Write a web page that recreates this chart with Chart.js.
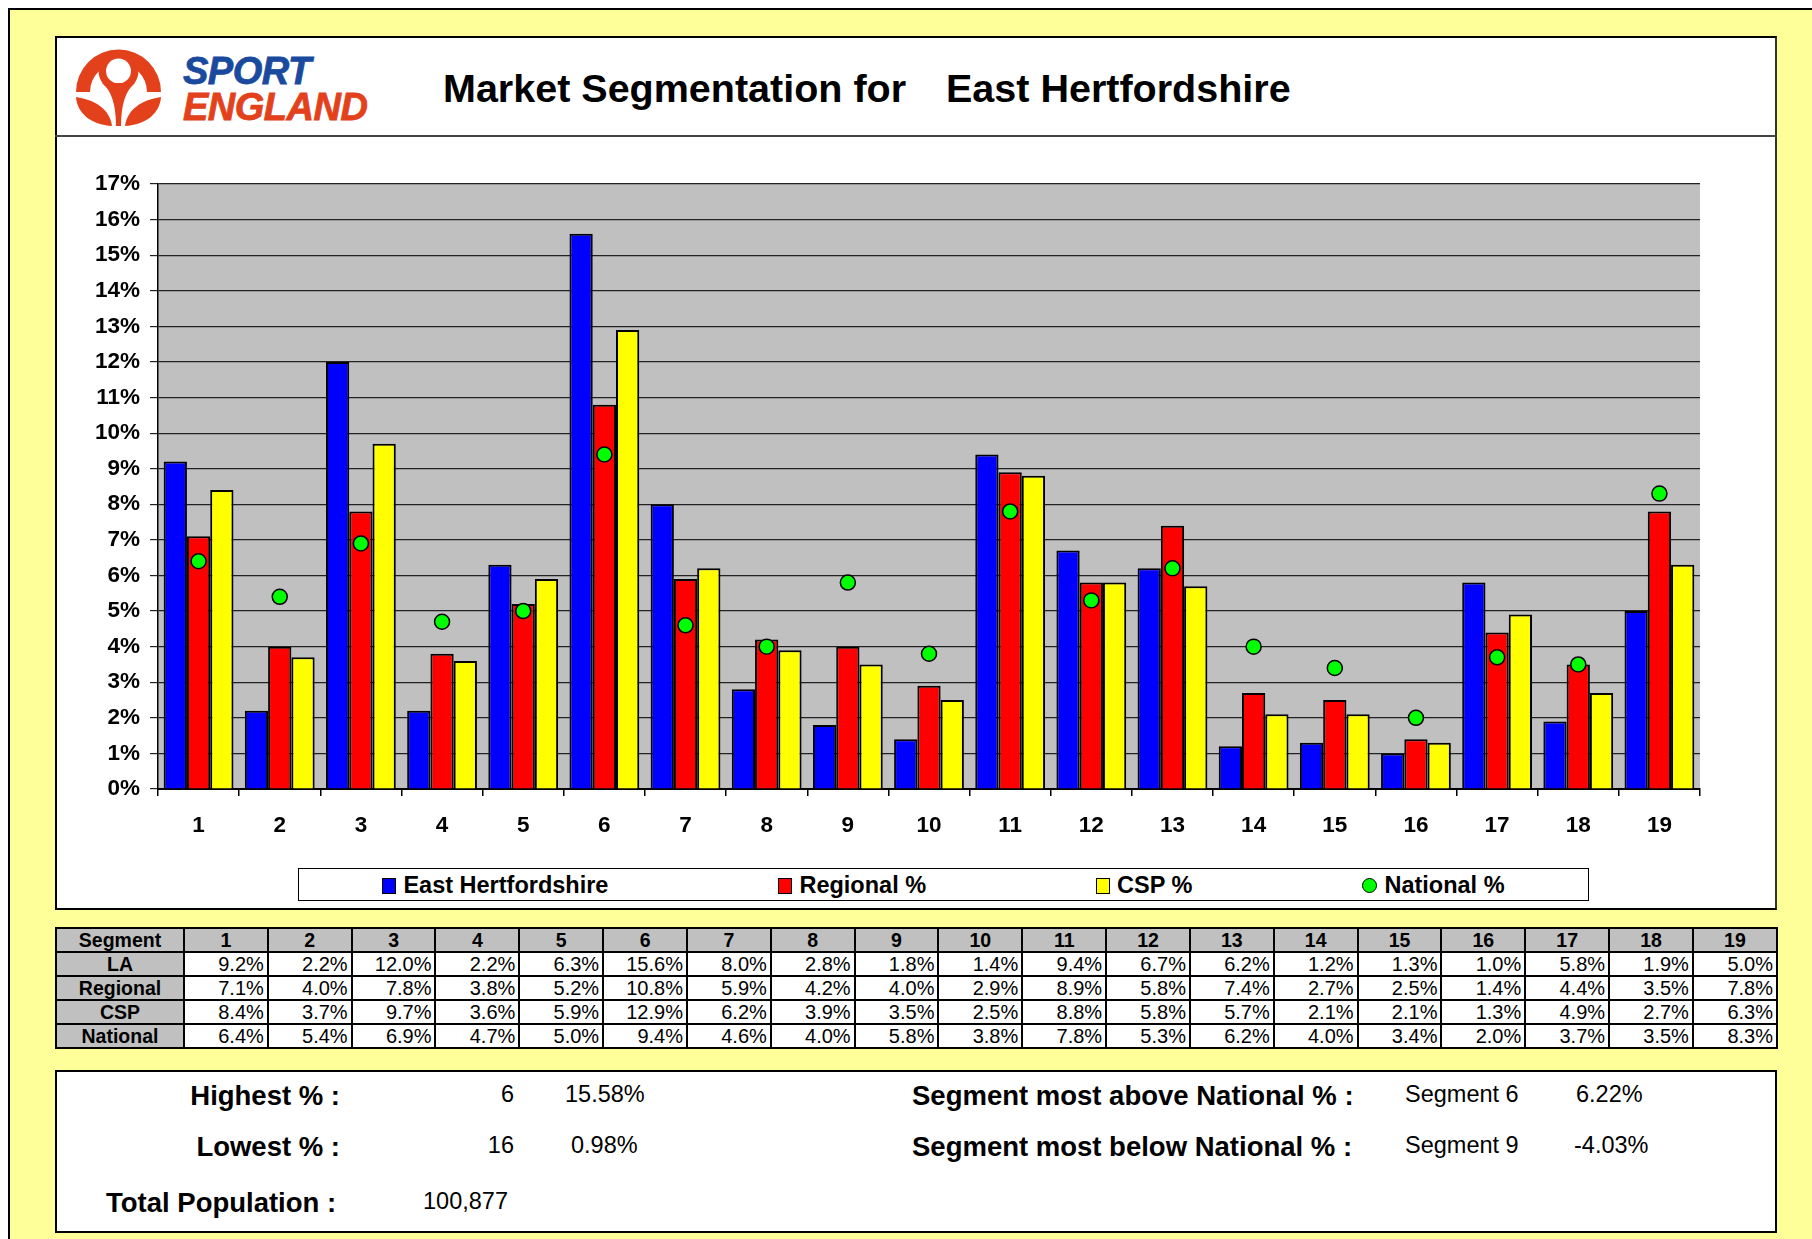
<!DOCTYPE html>
<html lang="en">
	<head>
		<meta charset="UTF-8">
		<title>Market Segmentation for East Hertfordshire</title>
		<script src="https://cdn.jsdelivr.net/npm/chart.js"></script>
		<style>
			body { margin: 0; width: 1812px; height: 1239px; overflow: hidden; background: #fff; font-family: "Liberation Sans", Arial, sans-serif; position: relative; }
			.abs { position: absolute; }
			#frame { left: 8px; top: 8px; width: 1812px; height: 1239px; background: #FFFF99; border-top: 2px solid #000; border-left: 2px solid #000; }
			#panel { left: 55px; top: 36px; width: 1722px; height: 874px; background: #fff; border: 2px solid #000; border-right-color: #333; box-sizing: border-box; }
			#titlebar { left: 55px; top: 36px; width: 1722px; height: 101px; border-bottom: 2px solid #444; box-sizing: border-box; }
			.t { white-space: nowrap; line-height: 1; }
			#legend { left: 298px; top: 868px; width: 1291px; height: 33px; background: #fff; border: 1.5px solid #000; box-sizing: border-box;
				display: flex; justify-content: center; align-items: center; gap: 170px; font-weight: bold; font-size: 23.5px; padding-top: 2px; }
			#legend .item { display: flex; align-items: center; white-space: nowrap; }
			#legend .mark { width: 12px; height: 14px; border: 1.5px solid #000; margin-right: 7px; }
			#legend .dot { width: 13px; height: 13px; border-radius: 50%; }
			#segTable { left: 55px; top: 927px; width: 1723px; border-collapse: collapse; table-layout: fixed; border: 2px solid #000; }
			#segTable td { border: 2px solid #000; height: 22px; padding: 0 3px; line-height: 22px; font-size: 20px; background: #fff;
				text-align: right; font-family: "Liberation Sans Narrow", "Arial Narrow", "Liberation Sans", sans-serif; }
			#segTable td.h { background: #C0C0C0; font-weight: bold; text-align: center; font-size: 19.5px; font-family: "Liberation Sans", Arial, sans-serif; }
			#info { left: 55px; top: 1070px; width: 1722px; height: 163px; background: #fff; border: 2px solid #000; box-sizing: border-box; }
			.lab { font-weight: bold; font-size: 27.5px; }
			.val { font-size: 23.5px; }
			.logo { font-weight: bold; font-style: italic; font-size: 38px; -webkit-text-stroke: 0.8px currentColor; letter-spacing: -0.5px; }
		</style>
	</head>
	<body>
		<div id="frame" class="abs"></div>
		<div id="panel" class="abs"></div>
		<div id="titlebar" class="abs"></div>

		<!-- logo -->
		<svg class="abs" style="left:70px;top:42px" width="110" height="86" viewBox="0 0 110 86">
			<path d="M6 50 A42.5 42.5 0 0 1 91 50 L77 50 A28.5 28.5 0 0 0 20 50 Z" fill="#E3411B"/>
			<circle cx="48.5" cy="29" r="20" fill="#E3411B"/>
			<circle cx="48.5" cy="29" r="12.5" fill="#fff"/>
			<path d="M32 41 Q46 52 46 84 L51 84 Q51 52 65 41 Z" fill="#E3411B"/>
			<path d="M6 55 C7 71 21 83 42 84 C40 68 26 58 6 55 Z" fill="#E3411B"/>
			<path d="M91 55 C90 71 76 83 55 84 C57 68 71 58 91 55 Z" fill="#E3411B"/>
		</svg>
		<div class="abs t logo" style="left:183px;top:52px;color:#1A4A9E">SPORT</div>
		<div class="abs t logo" style="left:183px;top:88px;color:#E3411B">ENGLAND</div>

		<div class="abs t" style="left:443px;top:69px;font-size:39.5px;font-weight:bold;color:#000">Market Segmentation for</div>
		<div class="abs t" style="left:946px;top:69px;font-size:39.5px;font-weight:bold;color:#000">East Hertfordshire</div>

		<canvas id="segChart" class="abs" style="left:57px;top:130px" width="1718" height="776"></canvas>
		<div id="legend" class="abs"></div>

		<table id="segTable" class="abs"></table>

		<div id="info" class="abs"></div>
		<div class="abs t lab" style="right:1472px;top:1082px">Highest % :</div>
		<div class="abs t val" style="right:1298px;top:1083px">6</div>
		<div class="abs t val" style="left:565px;top:1083px">15.58%</div>
		<div class="abs t lab" style="right:1472px;top:1133px">Lowest % :</div>
		<div class="abs t val" style="right:1298px;top:1134px">16</div>
		<div class="abs t val" style="left:571px;top:1134px">0.98%</div>
		<div class="abs t lab" style="left:106px;top:1189px">Total Population :</div>
		<div class="abs t val" style="left:423px;top:1190px">100,877</div>
		<div class="abs t lab" style="left:912px;top:1082px">Segment most above National % :</div>
		<div class="abs t val" style="left:1405px;top:1083px">Segment 6</div>
		<div class="abs t val" style="left:1576px;top:1083px">6.22%</div>
		<div class="abs t lab" style="left:912px;top:1133px">Segment most below National % :</div>
		<div class="abs t val" style="left:1405px;top:1134px">Segment 9</div>
		<div class="abs t val" style="left:1574px;top:1134px">-4.03%</div>

		<script>
			// values (percent)
			const segments = ['1','2','3','4','5','6','7','8','9','10','11','12','13','14','15','16','17','18','19'];
			const laPct = [9.2, 2.2, 12.0, 2.2, 6.3, 15.6, 8.0, 2.8, 1.8, 1.4, 9.4, 6.7, 6.2, 1.2, 1.3, 1.0, 5.8, 1.9, 5.0];
			const regionalPct = [7.1, 4.0, 7.8, 3.8, 5.2, 10.8, 5.9, 4.2, 4.0, 2.9, 8.9, 5.8, 7.4, 2.7, 2.5, 1.4, 4.4, 3.5, 7.8];
			const cspPct = [8.4, 3.7, 9.7, 3.6, 5.9, 12.9, 6.2, 3.9, 3.5, 2.5, 8.8, 5.8, 5.7, 2.1, 2.1, 1.3, 4.9, 2.7, 6.3];
			const nationalPct = [6.4, 5.4, 6.9, 4.7, 5.0, 9.4, 4.6, 4.0, 5.8, 3.8, 7.8, 5.3, 6.2, 4.0, 3.4, 2.0, 3.7, 3.5, 8.3];
			const yMax = 17;

			Chart.defaults.font.family = '"Liberation Sans", Arial, sans-serif';
			Chart.defaults.color = '#000';

			// grey plot area like the excel chart
			const plotBg = {
				id: 'plotBg',
				beforeDraw(chart) {
					const {ctx, chartArea: a} = chart;
					ctx.save();
					ctx.fillStyle = '#C0C0C0';
					ctx.fillRect(a.left, a.top, a.right - a.left, a.bottom - a.top);
					ctx.restore();
				}
			};

			const barOpts = {borderColor: '#000', borderWidth: 2, categoryPercentage: 0.86, barPercentage: 1};

			const segChart = new Chart(document.getElementById('segChart'), {
				type: 'bar',
				data: {
					labels: segments,
					datasets: [
						{label: 'East Hertfordshire', data: laPct, backgroundColor: '#0000FF', ...barOpts},
						{label: 'Regional %', data: regionalPct, backgroundColor: '#FF0000', ...barOpts},
						{label: 'CSP %', data: cspPct, backgroundColor: '#FFFF00', ...barOpts},
						{
							type: 'line', label: 'National %', data: nationalPct, showLine: false, order: -1,
							backgroundColor: '#00FF00', pointBackgroundColor: '#00FF00', pointBorderColor: '#000',
							pointBorderWidth: 1.5, pointRadius: 7.5, pointHoverRadius: 7.5
						}
					]
				},
				options: {
					responsive: false,
					animation: false,
					devicePixelRatio: 1,
					layout: {padding: {top: 54, right: 75, bottom: 0, left: 0}},
					plugins: {legend: {display: false}, tooltip: {enabled: false}},
					scales: {
						x: {
							grid: {drawOnChartArea: false, tickLength: 7, color: '#000', lineWidth: 1.5},
							border: {color: '#000', width: 2},
							ticks: {font: {size: 22.5, weight: 'bold'}, padding: 16, color: '#000'},
							afterFit: (scale) => { scale.height = 117; }
						},
						y: {
							min: 0,
							max: yMax,
							grid: {color: '#222', lineWidth: 1.2, tickLength: 8},
							border: {color: '#000', width: 1.5},
							ticks: {stepSize: 1, font: {size: 22.5, weight: 'bold'}, padding: 10, color: '#000',
								callback: (v) => v + '%'},
							afterFit: (scale) => { scale.width = 101; }
						}
					}
				},
				plugins: [plotBg]
			});

			// html legend built from the chart datasets
			const legendEl = document.getElementById('legend');
			segChart.data.datasets.forEach((ds) => {
				const item = document.createElement('div');
				item.className = 'item';
				const mark = document.createElement('span');
				mark.className = ds.type === 'line' ? 'mark dot' : 'mark';
				mark.style.background = ds.backgroundColor;
				item.appendChild(mark);
				item.appendChild(document.createTextNode(ds.label));
				legendEl.appendChild(item);
			});

			// data table under the chart
			const table = document.getElementById('segTable');
			const colgroup = document.createElement('colgroup');
			colgroup.innerHTML = '<col style="width:128px">' + segments.map(() => '<col>').join('');
			table.appendChild(colgroup);
			const head = table.insertRow();
			head.innerHTML = '<td class="h">Segment</td>' + segments.map((s) => '<td class="h">' + s + '</td>').join('');
			[['LA', laPct], ['Regional', regionalPct], ['CSP', cspPct], ['National', nationalPct]].forEach(([name, vals]) => {
				const row = table.insertRow();
				row.innerHTML = '<td class="h">' + name + '</td>' + vals.map((v) => '<td>' + v.toFixed(1) + '%</td>').join('');
			});
		</script>
	</body>
</html>
